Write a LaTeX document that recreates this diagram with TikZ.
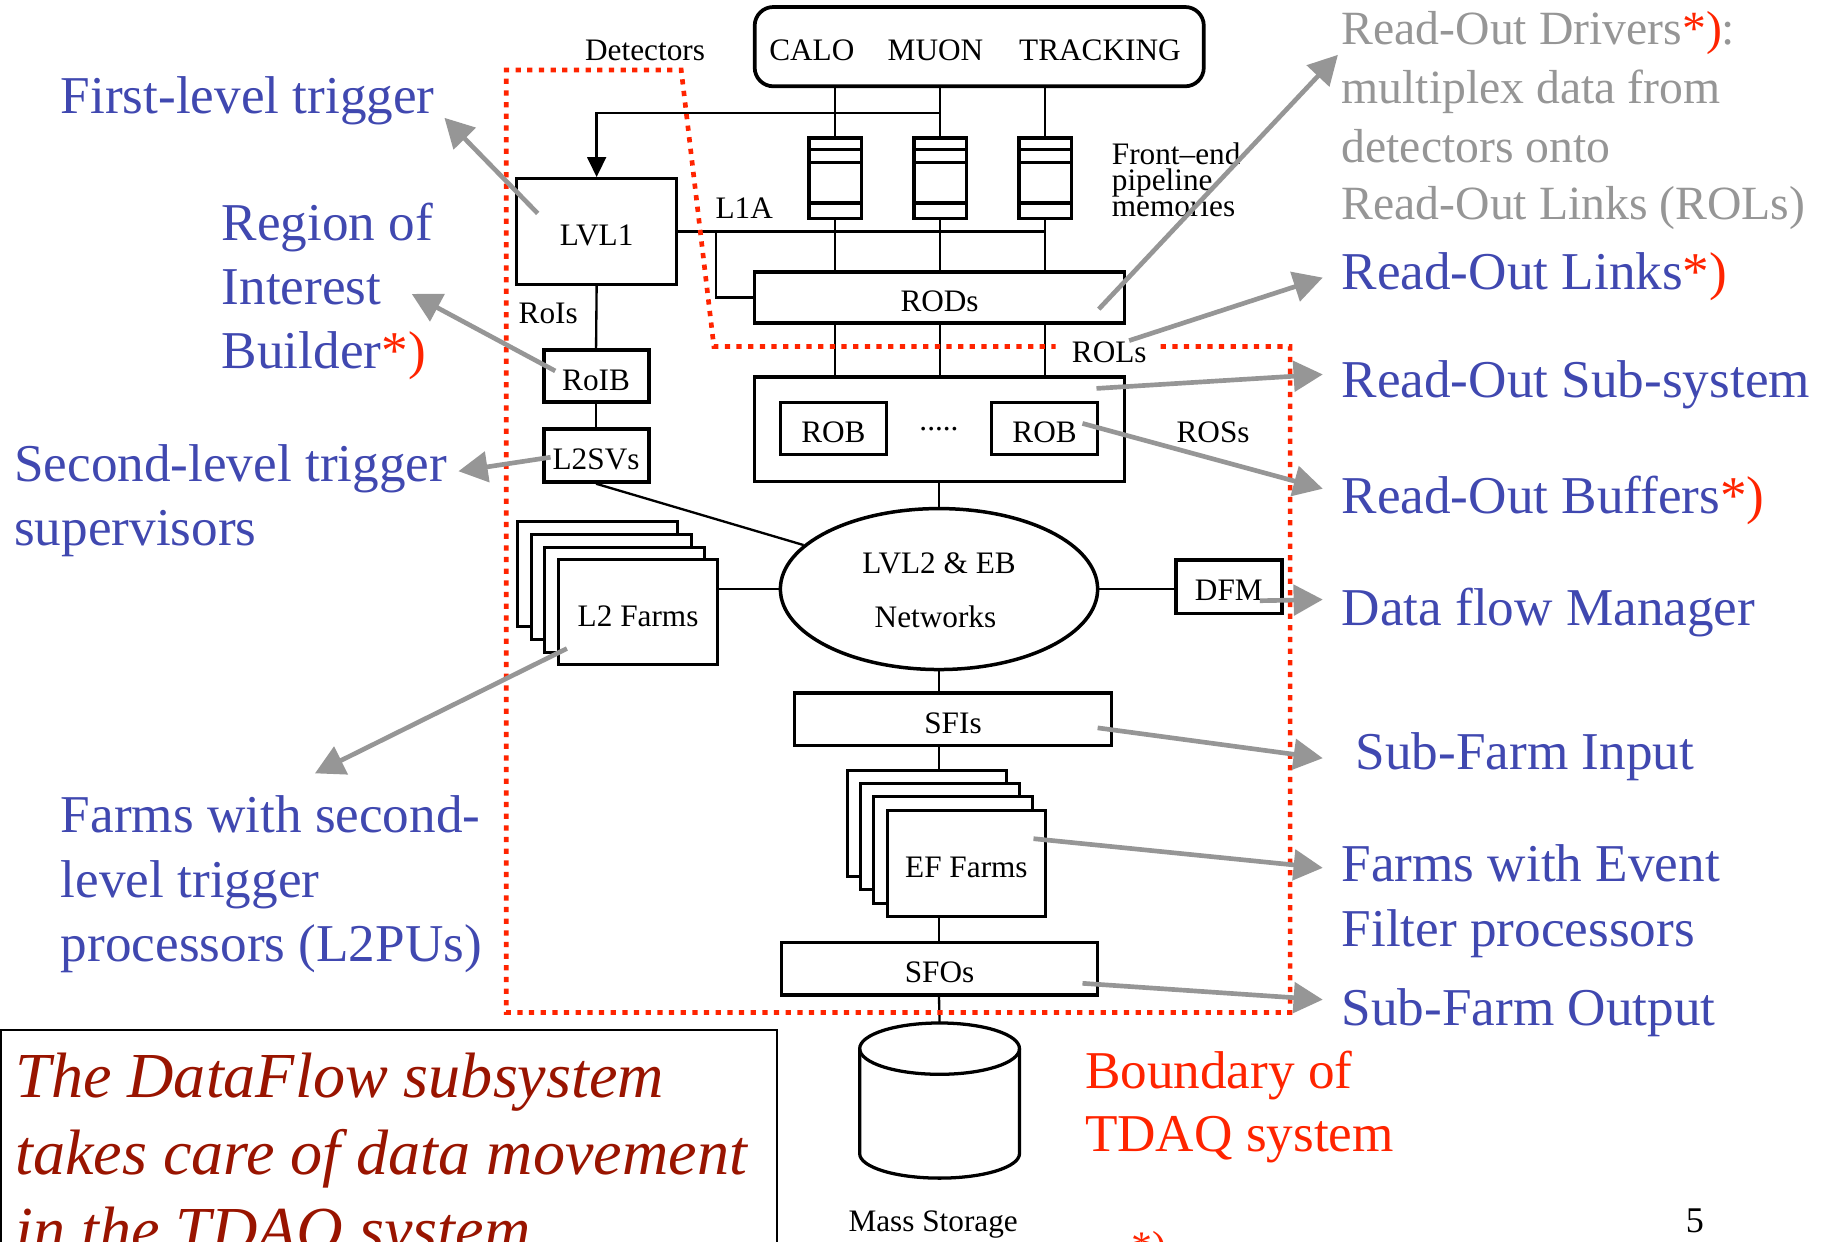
\documentclass[tikz,border=0pt]{standalone}
\usepackage{fontspec}
\setmainfont{Liberation Serif}
\usetikzlibrary{arrows.meta,shapes.geometric}
\definecolor{lblblue}{RGB}{64,72,176}
\definecolor{lblgray}{RGB}{150,150,150}
\definecolor{bndred}{RGB}{255,36,0}
\definecolor{notered}{RGB}{153,20,0}
\newcommand\dgfont{\fontsize{26.8}{22.5}\selectfont}
\newcommand\lblfont{\fontsize{45.6}{55}\selectfont}
\newcommand\grayfont{\fontsize{40.9}{50}\selectfont}
\newcommand\notefont{\fontsize{55}{66}\selectfont\itshape}
\begin{document}
\begin{tikzpicture}[x=1pt,y=-1pt,
  box/.style={draw,line width=3pt,inner sep=0pt,font=\dgfont,text height=24pt,text depth=0pt},
  stackbox/.style={box,line width=2.6pt,fill=white,minimum width=137pt,minimum height=90pt},
  txt/.style={inner sep=0pt,font=\dgfont,anchor=base},
  txtw/.style={inner sep=0pt,font=\dgfont,anchor=base west},
  wire/.style={line width=2pt},
  lbl/.style={inner sep=0pt,anchor=base west,font=\lblfont,text=lblblue},
  glbl/.style={inner sep=0pt,anchor=base west,font=\grayfont,text=lblgray},
  pointer/.style={draw=lblgray,line width=4pt,-{Triangle[length=25pt,width=26pt]}},
  boundary/.style={draw=bndred,line width=4pt,dash pattern=on 4.5pt off 5.5pt},
  ]
\useasboundingbox (0,0) rectangle (1568,1064);
\clip (0,0) rectangle (1568,1064);

% ---------------- detectors and front-end ----------------
\node[box,line width=3.2pt,rounded corners=16pt,minimum width=385pt,minimum height=68pt] (det) at (839.5,40) {};
\node[txt] (calo) at (696,52) {CALO};
\node[txt] (muon) at (802,52) {MUON};
\node[txt] (trk) at (943,52) {TRACKING};
\node[txt] (dettxt) at (553,52) {Detectors};

\foreach \n/\x in {1/716,2/806,3/896}{
  \node[box,minimum width=45pt,minimum height=69pt] (pipe\n) at (\x,153) {};
  \foreach \d/\w in {11/2.2pt,22.5/2.2pt,57/3.6pt}
    \draw[line width=\w] ([yshift=-\d pt]pipe\n.north west) -- ([yshift=-\d pt]pipe\n.north east);
}
\node[txtw] (fe1) at (953,141) {Front--end};
\node[txtw] (fe2) at (953,163.5) {pipeline};
\node[txtw] (fe3) at (953,186) {memories};

\node[box,line width=2.4pt,minimum width=137pt,minimum height=91pt] (lvl1) at (511.5,198.5) {LVL1};
\node[box,minimum width=317pt,minimum height=44pt] (rods) at (805.5,255) {RODs};
\node[txt] (l1a) at (638,187) {L1A};

% ---------------- read-out system ----------------
\node[box,minimum width=317pt,minimum height=90pt] (ros) at (805.5,368) {};
\node[box,line width=2.6pt,minimum width=91pt,minimum height=45pt] (rob1) at (714.5,367.5) {ROB};
\node[box,line width=2.6pt,minimum width=91pt,minimum height=45pt] (rob2) at (895.5,367.5) {ROB};
\node[txt] (dots) at (805,369) {.....};
\node[txt] (rols) at (951,311) {ROLs};
\node[txt] (ross) at (1040,379) {ROSs};

% ---------------- level-2 trigger ----------------
\node[box,line width=3.4pt,minimum width=90pt,minimum height=45pt] (roib) at (511,322.5) {RoIB};
\node[box,line width=3.4pt,minimum width=90pt,minimum height=45pt] (l2sv) at (511,390.5) {L2SVs};
\node[txt] (rois) at (470,277) {RoIs};

\node[draw,ellipse,line width=3pt,inner sep=0pt,minimum width=272pt,minimum height=138pt] (net) at (805,505) {};
\node[txt] (net1) at (805,492) {LVL2 \& EB};
\node[txt] (net2) at (802,538) {Networks};

\node[box,minimum width=91pt,minimum height=46pt] (dfm) at (1053.5,503) {DFM};

\node[stackbox] (l2f1) at (512.5,492) {};
\node[stackbox] (l2f2) at (524,503) {};
\node[stackbox] (l2f3) at (535.5,514) {};
\node[stackbox] (l2f4) at (547,525) {L2 Farms};

% ---------------- event filter ----------------
\node[box,minimum width=272pt,minimum height=45pt] (sfi) at (817,616.5) {SFIs};
\node[stackbox,minimum width=136pt,minimum height=91pt] (ef1) at (794.6,706) {};
\node[stackbox,minimum width=136pt,minimum height=91pt] (ef2) at (805.9,717.3) {};
\node[stackbox,minimum width=136pt,minimum height=91pt] (ef3) at (817.2,728.7) {};
\node[stackbox,minimum width=136pt,minimum height=91pt] (ef4) at (828.5,740) {EF Farms};
\node[box,minimum width=271pt,minimum height=45pt] (sfo) at (805.5,830.5) {SFOs};

% mass storage drum
\coordinate (disk) at (805.5,877);
\draw[line width=2.8pt] (805.5,899) ellipse [x radius=68.5pt,y radius=22pt];
\draw[line width=2.8pt] (737,899) -- (737,989)
  arc[start angle=180,end angle=360,x radius=68.5pt,y radius=21pt] -- (874,899);
\node[txt] (mstxt) at (800,1056) {Mass Storage};

% ---------------- connections ----------------
\foreach \n in {1,2,3}{
  \draw[wire] (pipe\n.north) -- (pipe\n.north |- det.south);
  \draw[wire] (pipe\n.south) -- (pipe\n.south |- rods.north);
  \draw[wire] (pipe\n.south |- rods.south) -- (pipe\n.south |- ros.north);
}
\coordinate (fb) at (806,97);
\draw[wire,-{Triangle[length=17pt,width=16pt]}] (fb) -| (lvl1.north);
\draw[wire] (lvl1.east) -- (lvl1.east -| pipe3.south);
\coordinate (br) at (614,198.5);
\draw[wire] (br) |- (rods.west);
\draw[wire] (lvl1.south) -- (roib.north);
\draw[wire] (roib.south) -- (l2sv.north);
\draw[wire] (l2sv.south) -- (net.162);
\draw[wire] (ros.south -| net.north) -- (net.north);
\draw[wire] (net.west) -- (net.west -| l2f4.east);
\draw[wire] (net.east) -- (net.east -| dfm.west);
\draw[wire] (net.south) -- (net.south |- sfi.north);
\draw[wire] (net.south |- sfi.south) -- (net.south |- ef1.north);
\draw[wire] (net.south |- ef4.south) -- (net.south |- sfo.north);
\draw[wire] (net.south |- sfo.south) -- (disk);

% ---------------- TDAQ boundary ----------------
\draw[boundary] (995,297) -- (1106,297) -- (1106,868) -- (434,868) -- (434,60)
  -- (584,60) -- (612,297) -- (905,297);
\node[lbl,text=bndred] (bnd1) at (930,933) {Boundary of};
\node[lbl,text=bndred] (bnd2) at (930,987) {TDAQ system};

% ---------------- explanatory labels ----------------
\node[lbl] (t1) at (52,97) {First-level trigger};
\node[lbl] (t2a) at (190,206) {Region of};
\node[lbl] (t2b) at (190,261) {Interest};
\node[lbl] (t2c) at (190,316) {Builder\textcolor{bndred}{*)}};
\node[lbl] (t3a) at (12,413) {Second-level trigger};
\node[lbl] (t3b) at (12,468) {supervisors};
\node[lbl] (t4a) at (52,714) {Farms with second-};
\node[lbl] (t4b) at (52,769) {level trigger};
\node[lbl] (t4c) at (52,824) {processors (L2PUs)};

\node[glbl] (g1) at (1150,38) {Read-Out Drivers\textcolor{bndred}{*)}:};
\node[glbl] (g2) at (1150,89) {multiplex data from};
\node[glbl] (g3) at (1150,139) {detectors onto};
\node[glbl] (g4) at (1150,188) {Read-Out Links (ROLs)};

\node[lbl] (r1) at (1150,248) {Read-Out Links\textcolor{bndred}{*)}};
\node[lbl] (r2) at (1150,341) {Read-Out Sub-system};
\node[lbl] (r3) at (1150,440) {Read-Out Buffers\textcolor{bndred}{*)}};
\node[lbl] (r4) at (1150,536) {Data flow Manager};
\node[lbl] (r5) at (1162,660) {Sub-Farm Input};
\node[lbl] (r6a) at (1150,756) {Farms with Event};
\node[lbl] (r6b) at (1150,811) {Filter processors};
\node[lbl] (r7) at (1150,879) {Sub-Farm Output};

% pointer arrows from the boxes to their labels
\coordinate (a1) at (461,183);  \coordinate (b1) at (381,101);
\coordinate (a2) at (476,318);  \coordinate (b2) at (353,252);
\coordinate (a3) at (472,392);  \coordinate (b3) at (393,404);
\coordinate (a4) at (486,556);  \coordinate (b4) at (270,663);
\coordinate (a5) at (942,265);  \coordinate (b5) at (1147,47);
\coordinate (a6) at (968,292);  \coordinate (b6) at (1134,238);
\coordinate (a7) at (940,333);  \coordinate (b7) at (1134,321);
\coordinate (a8) at (928,363);  \coordinate (b8) at (1134,419);
\coordinate (a9) at (1080,515); \coordinate (b9) at (1134,514);
\coordinate (a10) at (941,624); \coordinate (b10) at (1134,650);
\coordinate (a11) at (886,719); \coordinate (b11) at (1134,744);
\coordinate (a12) at (928,843); \coordinate (b12) at (1134,857);
\foreach \i in {1,...,12} \draw[pointer] (a\i) -- (b\i);

% ---------------- note box ----------------
\draw[line width=1.5pt] (0.75,1070) -- (0.75,883) -- (666,883) -- (666,1070);
\node[inner sep=0pt,anchor=base west,font=\notefont,text=notered] (n1) at (13,941) {The DataFlow subsystem};
\node[inner sep=0pt,anchor=base west,font=\notefont,text=notered] (n2) at (13,1007) {takes care of data movement};
\node[inner sep=0pt,anchor=base west,font=\notefont,text=notered] (n3) at (13,1073) {in the TDAQ system};

\node[inner sep=0pt,anchor=base west,font=\fontsize{36}{40}\selectfont,text=bndred] (foot) at (970,1081) {*)};
\node[inner sep=0pt,anchor=base west,font=\fontsize{31}{36}\selectfont] (pgno) at (1445,1057) {5};
\end{tikzpicture}
\end{document}
